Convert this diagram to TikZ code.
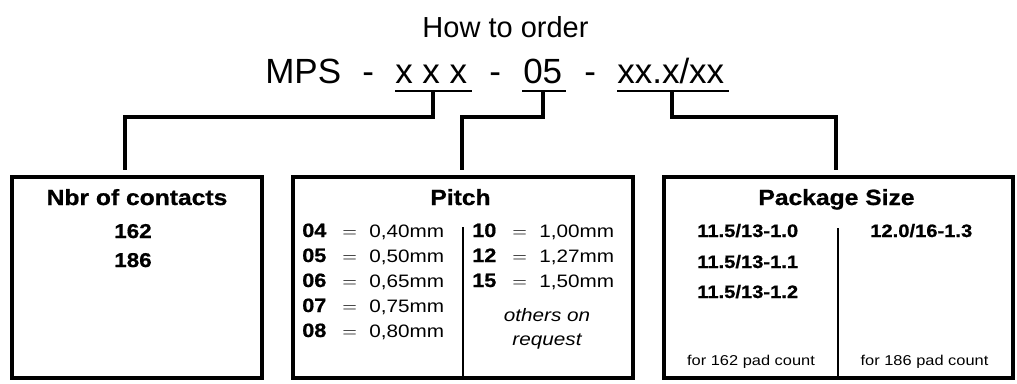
\documentclass[tikz,border=0pt]{standalone}
\usepackage{fontspec}
\setmainfont{Liberation Sans}
\newfontfamily\bx[FakeStretch=1.15]{Liberation Sans}
\newfontfamily\bxb[FakeStretch=1.12, FakeBold=0.8]{Liberation Sans Bold}
\usetikzlibrary{fit}
\begin{document}
\begin{tikzpicture}[x=0.75pt,y=-0.75pt,
  txt/.style={inner sep=0pt, anchor=base},
  lft/.style={inner sep=0pt, anchor=base west},
  boxf/.style={draw, line width=2.3pt, inner sep=0pt},
  conn/.style={line width=2.3pt, shorten >=3.75pt},
  uline/.style={line width=1.9pt},
  divl/.style={line width=1.5pt},
  big/.style={font=\fontsize{26.25pt}{30pt}\selectfont},
  ttl/.style={font=\bxb\fontsize{16.5pt}{18pt}\selectfont},
  num/.style={font=\bxb\fontsize{15pt}{18pt}\selectfont},
  pd/.style={font=\bxb\fontsize{14.5pt}{15pt}\selectfont},
  pv/.style={font=\bx\fontsize{13.5pt}{15pt}\selectfont},
  eq/.style={font=\fontsize{15pt}{15pt}\selectfont},
  pit/.style={font=\bx\itshape\fontsize{13.5pt}{15pt}\selectfont},
  pk/.style={font=\bxb\fontsize{13.5pt}{15pt}\selectfont},
  sm/.style={font=\bx\fontsize{10.7pt}{13pt}\selectfont}]
\useasboundingbox (0,0) rectangle (1017,383);
\fill[white] (0,0) rectangle (1017,383);

% heading
\node[txt, font=\fontsize{21.75pt}{24pt}\selectfont] (title) at (505.5,37) {How to order};
\node[lft, big] (mps) at (265,83) {MPS};
\node[lft, big] (d1) at (362,83) {-};
\node[lft, big] (xxx) at (395,83) {x x x};
\node[lft, big] (d2) at (489,83) {-};
\node[lft, big] (pp) at (523,83) {05};
\node[lft, big] (d3) at (584,83) {-};
\node[lft, big] (pkg) at (617,83) {xx.x/xx};

% underlines
\coordinate (u1a) at (395,91); \coordinate (u1b) at (472,91);
\coordinate (u2a) at (522,91); \coordinate (u2b) at (566,91);
\coordinate (u3a) at (617,91); \coordinate (u3b) at (729,91);
\draw[uline] (u1a) -- (u1b);
\draw[uline] (u2a) -- (u2b);
\draw[uline] (u3a) -- (u3b);

% boxes
\coordinate (b1nw) at (12,177); \coordinate (b1se) at (262,378);
\coordinate (b2nw) at (293,177); \coordinate (b2se) at (633,378);
\coordinate (b3nw) at (664,177); \coordinate (b3se) at (1013,378);
\node[boxf, fit=(b1nw)(b1se)] (b1) {};
\node[boxf, fit=(b2nw)(b2se)] (b2) {};
\node[boxf, fit=(b3nw)(b3se)] (b3) {};

% connectors
\coordinate (s1) at (433,91); \coordinate (k1) at (125,117);
\coordinate (s2) at (543,91); \coordinate (k2) at (462,117);
\coordinate (s3) at (672,91); \coordinate (k3) at (836,117);
\draw[conn] (s1) -- (s1|-k1) -- (k1) -- (k1|-b1.north);
\draw[conn] (s2) -- (s2|-k2) -- (k2) -- (k2|-b2.north);
\draw[conn] (s3) -- (s3|-k3) -- (k3) -- (k3|-b3.north);

% dividers
\coordinate (v2) at (463,227);
\coordinate (v3) at (838,228);
\draw[divl] (v2) -- (v2|-b2.south);
\draw[divl] (v3) -- (v3|-b3.south);

% box 1
\node[txt, ttl] (t1) at (137,205) {Nbr of contacts};
\node[txt, num] (n162) at (133,238) {162};
\node[txt, num] (n186) at (133,267) {186};

% box 2
\node[txt, ttl] (t2) at (460.5,205) {Pitch};
\foreach \k/\v/\y in {04/{0,40mm}/237, 05/{0,50mm}/262, 06/{0,65mm}/287, 07/{0,75mm}/312, 08/{0,80mm}/337}{
  \node[lft, pd] (pl\k) at (302,\y) {\k};
  \node[lft, eq] (pe\k) at (342,\y) {$=$};
  \node[lft, pv] (pv\k) at (369,\y) {\v};
}
\foreach \k/\v/\y in {10/{1,00mm}/237, 12/{1,27mm}/262, 15/{1,50mm}/287}{
  \node[lft, pd] (pl\k) at (472,\y) {\k};
  \node[lft, eq] (pe\k) at (512,\y) {$=$};
  \node[lft, pv] (pv\k) at (539,\y) {\v};
}
\node[txt, pit] (oth) at (547,321) {others on};
\node[txt, pit] (req) at (547,345) {request};

% box 3
\node[txt, ttl] (t3) at (836.5,205) {Package Size};
\node[lft, pk] (k10) at (697,237) {11.5/13-1.0};
\node[lft, pk] (k11) at (697,268) {11.5/13-1.1};
\node[lft, pk] (k12) at (697,298) {11.5/13-1.2};
\node[lft, pk] (k13) at (870,237) {12.0/16-1.3};
\node[txt, sm] (f162) at (751,365) {for 162 pad count};
\node[txt, sm] (f186) at (924.5,365) {for 186 pad count};
\end{tikzpicture}
\end{document}
